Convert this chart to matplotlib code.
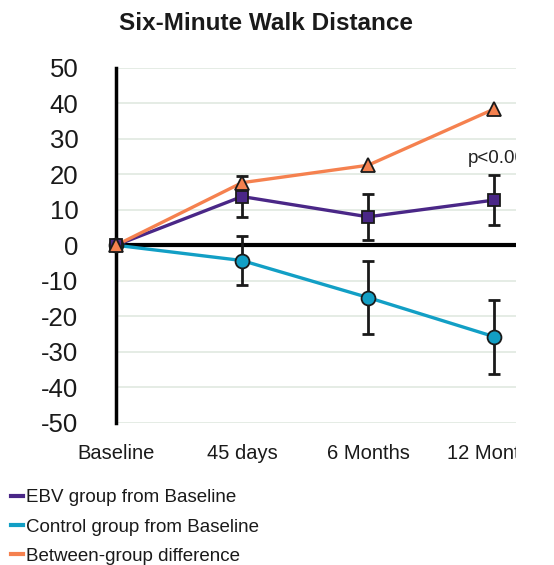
import numpy as np
import matplotlib
matplotlib.use("Agg")
from matplotlib import pyplot as plt
from matplotlib.transforms import Bbox, TransformedBbox
from matplotlib.lines import Line2D

plt.rcParams['font.family'] = ['Liberation Sans', 'DejaVu Sans']
plt.rcParams['axes.unicode_minus'] = False

# datos
puntos = ['Baseline', '45 days', '6 Months', '12 Months']
ebv = [0, 13.7, 8.0, 12.7]
ebv_err = [0, 5.8, 6.5, 7.0]
control = [0, -4.3, -14.7, -25.7]
control_err = [0, 7.0, 10.2, 10.4]
diferencia = [0, 17.6, 22.5, 38.3]
nombres = ['EBV group from Baseline', 'Control group from Baseline', 'Between-group difference']
colores = ['#4a2787', '#129fc5', '#f5814f']

W, H = 554, 565
fig = plt.figure(figsize=(W / 100, H / 100), dpi=100)
ax = fig.add_axes([116 / W, 1 - 423 / H, (516 - 116) / W, (423 - 67.5) / H])

x = np.arange(len(puntos))

# lineas
ax.plot(x, ebv, color=colores[0], lw=2.4, zorder=3)
ax.plot(x, control, color=colores[1], lw=2.4, zorder=3)
ax.plot(x, diferencia, color=colores[2], lw=2.4, zorder=3)

# barras de error (sin baseline)
ax.errorbar(x[1:], ebv[1:], yerr=ebv_err[1:], fmt='none', ecolor='#1a1a1a',
            elinewidth=2, capsize=4.5, capthick=2, zorder=4)
ax.errorbar(x[1:], control[1:], yerr=control_err[1:], fmt='none', ecolor='#1a1a1a',
            elinewidth=2, capsize=4.5, capthick=2, zorder=4)

# marcadores
ax.plot(x, control, 'o', ms=10, mfc=colores[1], mec='#1a1a1a', mew=1.3, zorder=5, clip_on=False)
ax.plot(x, ebv, 's', ms=9, mfc=colores[0], mec='#1a1a1a', mew=1.3, zorder=6, clip_on=False)
ax.plot(x, diferencia, '^', ms=9.5, mfc=colores[2], mec='#1a1a1a', mew=1.3, zorder=7, clip_on=False)

ax.set_xlim(0, 3.175)
ax.set_ylim(-50, 50)
ax.set_yticks(np.arange(-50, 51, 10))
ax.set_xticks(x)
ax.set_xticklabels(puntos)
ax.yaxis.grid(True, color='#e3ebe3', lw=1.3)
ax.set_axisbelow(True)
for s in ['top', 'right', 'bottom']:
    ax.spines[s].set_visible(False)
ax.spines['left'].set_linewidth(2.5)
ax.axhline(0, color='black', lw=3, zorder=2)
ax.tick_params(axis='y', length=0, labelsize=18.5, pad=27, colors='#1a1a1a')
ax.tick_params(axis='x', length=0, labelsize=14.5, pad=15, colors='#1a1a1a')

# recorte a la derecha como en la imagen original
caja = TransformedBbox(Bbox([[0, 0], [516 / W, 1]]), fig.transFigure)
for lbl in ax.get_xticklabels():
    lbl.set_clip_box(caja)
    lbl.set_clip_on(True)

t = ax.text(2.79, 24.5, 'p<0.001', fontsize=13.5, va='center', ha='left', color='#222222')
t.set_clip_box(caja)
t.set_clip_on(True)

fig.text(266 / W, 1 - 24 / H, 'Six-Minute Walk Distance', fontsize=17.5, fontweight='bold',
         ha='center', va='center', color='#1a1a1a')

handles = [Line2D([], [], color=c, lw=3) for c in colores]
fig.legend(handles, nombres, loc='upper left', bbox_to_anchor=(0.0, 1 - 478 / H),
           frameon=False, fontsize=13.5, handlelength=0.65, handletextpad=0.15,
           labelspacing=0.64, borderaxespad=0.2, labelcolor='#1a1a1a')

fig.savefig('out.png', dpi=100)
